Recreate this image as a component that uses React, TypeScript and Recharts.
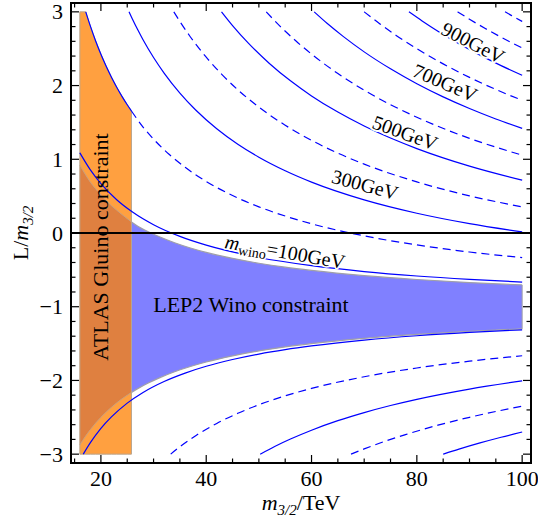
import React from "react";
import {
  ComposedChart,
  Line,
  Area,
  XAxis,
  YAxis,
  ReferenceLine,
  ReferenceDot,
} from "recharts";

// ---------- axis setup ----------
const X_DOMAIN: [number, number] = [14.32, 101.68];
const Y_DOMAIN: [number, number] = [-3.12, 3.12];
const xTicks = [15, 20, 25, 30, 35, 40, 45, 50, 55, 60, 65, 70, 75, 80, 85, 90, 95, 100];
const xMajor = [20, 40, 60, 80, 100];
const yTicks = [
  -3, -2.8, -2.6, -2.4, -2.2, -2, -1.8, -1.6, -1.4, -1.2, -1, -0.8, -0.6, -0.4, -0.2, 0,
  0.2, 0.4, 0.6, 0.8, 1, 1.2, 1.4, 1.6, 1.8, 2, 2.2, 2.4, 2.6, 2.8, 3,
];

// ---------- contour lines (x = m3/2 [TeV], y = L/m3/2) ----------
const upper100 = [[16, 1.088], [18, 0.856], [20, 0.67], [23, 0.452], [26, 0.285], [30, 0.113], [35, -0.046], [40, -0.165], [50, -0.332], [60, -0.443], [70, -0.523], [80, -0.583], [90, -0.629], [100, -0.666]];
const upper200 = [[25.8, 1.655], [28, 1.4375], [30, 1.273], [33, 1.065], [36, 0.891], [40, 0.699], [45, 0.508], [50, 0.355], [55, 0.23], [60, 0.125], [70, -0.039], [80, -0.162], [90, -0.258], [100, -0.334]];
const upper300 = [[25.35, 3], [26, 2.9], [27, 2.756], [28, 2.621], [30, 2.38], [32, 2.169], [35, 1.897], [38, 1.668], [42, 1.414], [46, 1.204], [50, 1.028], [55, 0.844], [60, 0.69], [70, 0.449], [80, 0.268], [90, 0.127], [100, 0.014]];
const upper400 = [[33.85, 3], [35, 2.869], [37, 2.659], [40, 2.385], [43, 2.149], [46, 1.943], [50, 1.708], [55, 1.462], [60, 1.257], [65, 1.083], [70, 0.934], [80, 0.693], [90, 0.504], [100, 0.354]];
const upper500 = [[42.9, 3], [45, 2.813], [48, 2.575], [52, 2.3], [56, 2.064], [60, 1.86], [65, 1.64], [70, 1.451], [75, 1.288], [80, 1.145], [90, 0.907], [100, 0.716]];
const upper600 = [[51.4, 3], [54, 2.807], [57, 2.607], [60, 2.427], [65, 2.163], [70, 1.937], [75, 1.741], [80, 1.57], [90, 1.284], [100, 1.056]];
const upper700 = [[60.5, 3], [63, 2.841], [66, 2.667], [70, 2.457], [75, 2.227], [80, 2.025], [85, 1.847], [90, 1.689], [95, 1.547], [100, 1.42]];
const upper800 = [[70, 3], [73, 2.836], [76, 2.684], [80, 2.5], [85, 2.294], [90, 2.111], [95, 1.947], [100, 1.8]];
const upper900 = [[78.5, 3], [81, 2.877], [84, 2.738], [88, 2.568], [92, 2.413], [96, 2.271], [100, 2.14]];
const upper1000 = [[87.75, 3], [90, 2.9], [93, 2.774], [96, 2.656], [100, 2.51]];
const upper1100 = [[96.75, 3], [98, 2.949], [100, 2.87]];
const lower100 = [[16.65, -3], [18, -2.844], [20, -2.65], [22, -2.495], [25, -2.308], [28, -2.163], [32, -2.014], [36, -1.9], [40, -1.808], [45, -1.716], [50, -1.642], [55, -1.582], [60, -1.532], [70, -1.453], [80, -1.394], [90, -1.349], [100, -1.313]];
const lower200 = [[33.25, -3], [35, -2.9], [38, -2.75], [42, -2.583], [46, -2.446], [50, -2.33], [55, -2.209], [60, -2.108], [70, -1.95], [80, -1.831], [90, -1.739], [100, -1.665]];
const lower300 = [[50.25, -3], [53, -2.896], [56, -2.795], [60, -2.675], [65, -2.546], [70, -2.436], [75, -2.34], [80, -2.256], [90, -2.117], [100, -2.005]];
const lower400 = [[67.5, -3], [70, -2.929], [74, -2.824], [78, -2.731], [84, -2.607], [90, -2.5], [95, -2.421], [100, -2.35]];
const lower500 = [[85, -3], [88, -2.932], [92, -2.848], [96, -2.771], [100, -2.7]];

// ---------- constraint regions ----------
const gluinoTop = [[16, 3], [17.12, 3], [18, 2.806], [19, 2.605], [20, 2.425], [21, 2.262], [22, 2.114], [23, 1.978], [24, 1.854], [25, 1.74], [25.8, 1.655]];
const gluinoEdge = [[17.12, 3], [18, 2.806], [19, 2.605], [20, 2.425], [21, 2.262], [22, 2.114], [23, 1.978], [24, 1.854], [25, 1.74], [25.8, 1.655]];
const gluinoLeftSide = [[16, -3], [16, 3]];
const gluinoRightSide = [[25.8, -3], [25.8, 1.655]];
const gluinoBottom = -3;
// [x, low, high]
const winoBand = [[25.8, -2.163, 0.15], [27, -2.111, 0.093], [29, -2.035, 0.017], [31, -1.968, -0.048], [34, -1.882, -0.132], [37, -1.811, -0.203], [40, -1.75, -0.263], [45, -1.667, -0.344], [50, -1.6, -0.41], [55, -1.545, -0.464], [60, -1.5, -0.508], [70, -1.429, -0.579], [80, -1.375, -0.631], [90, -1.333, -0.672], [100, -1.3, -0.705]];
const winoRightSide = [[100, -1.3], [100, -0.705]];
const overlapBand = [[16, -2.875, 0.92], [17, -2.765, 0.8], [18, -2.667, 0.69], [19, -2.579, 0.6], [20, -2.5, 0.515], [21, -2.429, 0.44], [22, -2.364, 0.37], [23, -2.304, 0.31], [24, -2.25, 0.25], [25, -2.2, 0.195], [25.8, -2.163, 0.15]];

// ---------- labels ----------
const contourLabels = [
  { text: "900GeV", x: 90.67, y: 2.577, angle: 27 },
  { text: "700GeV", x: 85.35, y: 2.035, angle: 23 },
  { text: "500GeV", x: 77.75, y: 1.356, angle: 20 },
  { text: "300GeV", x: 70.15, y: 0.651, angle: 15 },
];
const winoLabel = { x: 54.96, y: -0.258, angle: 10 };
const lepLabel = { text: "LEP2 Wino constraint", x: 48.5, y: -0.977 };
const atlasLabel = { text: "ATLAS Gluino constraint", x: 20.02, y: -0.19 };

// ---------- styling / layout ----------
const W = 538;
const H = 522;
// plot area: left 71, right 531, top 3, bottom 463 (axes take 1px each)
const M = { top: 2, right: 6, bottom: 58, left: 70 };
const PLOT_LEFT = 71;
const PLOT_W = 460;
const PLOT_TOP = 3;
const PLOT_H = 460;
const FONT = '"Liberation Serif", "Times New Roman", Times, serif';
const BLUE = "#0000ff";
const ORANGE = "#ffa040";
const DARK = "#df8040";
const PERI = "#8080ff";
const EDGE_O = "#b8a48e";
const EDGE_B = "#a0a0a8";

const pts = (a: number[][]) => a.map(([x, y]) => ({ x, y }));
const rng = (a: number[][]) => a.map(([x, lo, hi]) => ({ x, r: [lo, hi] }));

const contours = [
  { id: "u100", data: upper100, dashed: false },
  { id: "u200", data: upper200, dashed: true },
  { id: "u300", data: upper300, dashed: false },
  { id: "u400", data: upper400, dashed: true },
  { id: "u500", data: upper500, dashed: false },
  { id: "u600", data: upper600, dashed: true },
  { id: "u700", data: upper700, dashed: false },
  { id: "u800", data: upper800, dashed: true },
  { id: "u900", data: upper900, dashed: false },
  { id: "u1000", data: upper1000, dashed: true },
  { id: "u1100", data: upper1100, dashed: true },
  { id: "l100", data: lower100, dashed: false },
  { id: "l200", data: lower200, dashed: true },
  { id: "l300", data: lower300, dashed: false },
  { id: "l400", data: lower400, dashed: true },
  { id: "l500", data: lower500, dashed: false },
];

const edges = [
  { id: "gl", data: gluinoLeftSide, color: EDGE_O },
  { id: "gr", data: gluinoRightSide, color: EDGE_O },
  { id: "wr", data: winoRightSide, color: EDGE_B },
];

const isMajorY = (v: number) => Math.abs(v - Math.round(v)) < 1e-6;
const fmt = (v: number) => (v < 0 ? `\u2212${Math.abs(v)}` : `${v}`);

const BottomTick = (p: any) => {
  const v = p.payload.value;
  const major = xMajor.includes(v);
  return (
    <g>
      <line x1={p.x} x2={p.x} y1={p.y} y2={p.y - (major ? 8 : 4.5)} stroke="#000" strokeWidth={1.2} />
      {major && (
        <text x={p.x} y={p.y + 22.5} textAnchor="middle" fontSize={22} fontFamily={FONT} fill="#000">
          {v}
        </text>
      )}
    </g>
  );
};
const TopTick = (p: any) => {
  const major = xMajor.includes(p.payload.value);
  return <line x1={p.x} x2={p.x} y1={p.y} y2={p.y + (major ? 8 : 4.5)} stroke="#000" strokeWidth={1.2} />;
};
const LeftTick = (p: any) => {
  const v = p.payload.value;
  const major = isMajorY(v);
  return (
    <g>
      <line x1={p.x} x2={p.x + (major ? 8 : 4.5)} y1={p.y} y2={p.y} stroke="#000" strokeWidth={1.2} />
      {major && (
        <text x={p.x - 8} y={p.y + 7.5} textAnchor="end" fontSize={22} fontFamily={FONT} fill="#000">
          {fmt(Math.round(v))}
        </text>
      )}
    </g>
  );
};
const RightTick = (p: any) => {
  const major = isMajorY(p.payload.value);
  return <line x1={p.x} x2={p.x - (major ? 8 : 4.5)} y1={p.y} y2={p.y} stroke="#000" strokeWidth={1.2} />;
};

const XTitle = () => (
  <text x={PLOT_LEFT + PLOT_W / 2} y={509.5} textAnchor="middle" fontSize={22} fontFamily={FONT} fill="#000">
    <tspan fontStyle="italic">m</tspan>
    <tspan fontSize={15} dy={5} fontStyle="italic">3/2</tspan>
    <tspan dy={-5}>/TeV</tspan>
  </text>
);
const YTitle = () => (
  <text
    transform={`translate(28, ${PLOT_TOP + PLOT_H / 2}) rotate(-90)`}
    textAnchor="middle"
    fontSize={22}
    fontFamily={FONT}
    fill="#000"
  >
    <tspan>L/</tspan>
    <tspan fontStyle="italic">m</tspan>
    <tspan fontSize={15} dy={5} fontStyle="italic">3/2</tspan>
  </text>
);

const halo = { stroke: "#fff", strokeWidth: 4, paintOrder: "stroke" as any, strokeLinejoin: "round" as any };

const contourLabelShape = (lab: { text: string; angle: number }) => (p: any) => (
  <text
    x={p.cx}
    y={p.cy}
    dy="0.33em"
    transform={`rotate(${lab.angle} ${p.cx} ${p.cy})`}
    textAnchor="middle"
    fontSize={20}
    fontFamily={FONT}
    fill="#000"
    {...halo}
  >
    {lab.text}
  </text>
);

const winoShape = (p: any) => (
  <text
    x={p.cx}
    y={p.cy}
    dy="0.33em"
    transform={`rotate(${winoLabel.angle} ${p.cx} ${p.cy})`}
    textAnchor="middle"
    fontSize={20}
    fontFamily={FONT}
    fill="#000"
    {...halo}
    strokeWidth={3}
  >
    <tspan fontStyle="italic">m</tspan>
    <tspan fontSize={14} dy={4}>wino</tspan>
    <tspan dy={-4}>=100GeV</tspan>
  </text>
);

const lepShape = (p: any) => (
  <text x={p.cx} y={p.cy} dy="0.33em" textAnchor="middle" fontSize={22} fontFamily={FONT} fill="#000">
    {lepLabel.text}
  </text>
);

const atlasShape = (p: any) => (
  <text
    x={p.cx}
    y={p.cy}
    dy="0.33em"
    transform={`rotate(-90 ${p.cx} ${p.cy})`}
    textAnchor="middle"
    fontSize={22}
    fontFamily={FONT}
    fill="#000"
  >
    {atlasLabel.text}
  </text>
);

const axisLineStyle = { stroke: "#000", strokeWidth: 2, strokeLinecap: "square" };

export default function App() {
  const gluinoData = gluinoTop.map(([x, y]) => ({ x, r: [gluinoBottom, y] }));
  return (
    <div style={{ position: "absolute", left: 0, top: 0, width: W, height: H, background: "#fff" }}>
      <ComposedChart width={W} height={H} margin={M}>
        <Area
          data={gluinoData}
          dataKey="r"
          type="linear"
          fill={ORANGE}
          fillOpacity={1}
          stroke={EDGE_O}
          strokeWidth={1}
          isAnimationActive={false}
        />
        <Area
          data={rng(overlapBand)}
          dataKey="r"
          type="monotone"
          fill={DARK}
          fillOpacity={1}
          stroke="#c8a080"
          strokeWidth={1}
          isAnimationActive={false}
        />
        <Area
          data={rng(winoBand)}
          dataKey="r"
          type="monotone"
          fill={PERI}
          fillOpacity={1}
          stroke={EDGE_B}
          strokeWidth={1.2}
          isAnimationActive={false}
        />
        {edges.map((e) => (
          <Line
            key={e.id}
            data={pts(e.data)}
            dataKey="y"
            type="linear"
            stroke={e.color}
            strokeWidth={1}
            dot={false}
            activeDot={false}
            isAnimationActive={false}
          />
        ))}
        {contours.map((c) => (
          <Line
            key={c.id}
            data={pts(c.data)}
            dataKey="y"
            type="monotone"
            stroke={BLUE}
            strokeWidth={1.2}
            strokeDasharray={c.dashed ? "8 5" : undefined}
            dot={false}
            activeDot={false}
            isAnimationActive={false}
          />
        ))}
        <Line
          data={pts(gluinoEdge)}
          dataKey="y"
          type="monotone"
          stroke={BLUE}
          strokeWidth={1.2}
          dot={false}
          activeDot={false}
          isAnimationActive={false}
        />
        <ReferenceLine y={0} stroke="#000" strokeWidth={2} />
        {contourLabels.map((l) => (
          <ReferenceDot key={l.text} x={l.x} y={l.y} r={1} shape={contourLabelShape(l)} />
        ))}
        <ReferenceDot x={winoLabel.x} y={winoLabel.y} r={1} shape={winoShape} />
        <ReferenceDot x={lepLabel.x} y={lepLabel.y} r={1} shape={lepShape} />
        <ReferenceDot x={atlasLabel.x} y={atlasLabel.y} r={1} shape={atlasShape} />

        <XAxis
          dataKey="x"
          type="number"
          domain={X_DOMAIN}
          allowDataOverflow
          ticks={xTicks}
          interval={0}
          height={1}
          tickSize={0}
          tickMargin={0}
          tickLine={false}
          axisLine={axisLineStyle}
          tick={BottomTick}
          label={XTitle}
        />
        <XAxis
          xAxisId="top"
          orientation="top"
          dataKey="x"
          type="number"
          domain={X_DOMAIN}
          allowDataOverflow
          ticks={xTicks}
          interval={0}
          height={1}
          tickSize={0}
          tickMargin={0}
          tickLine={false}
          axisLine={axisLineStyle}
          tick={TopTick}
        />
        <YAxis
          type="number"
          domain={Y_DOMAIN}
          allowDataOverflow
          ticks={yTicks}
          interval={0}
          width={1}
          tickSize={0}
          tickMargin={0}
          tickLine={false}
          axisLine={axisLineStyle}
          tick={LeftTick}
          label={YTitle}
        />
        <YAxis
          yAxisId="right"
          orientation="right"
          type="number"
          domain={Y_DOMAIN}
          allowDataOverflow
          ticks={yTicks}
          interval={0}
          width={1}
          tickSize={0}
          tickMargin={0}
          tickLine={false}
          axisLine={axisLineStyle}
          tick={RightTick}
        />
      </ComposedChart>
    </div>
  );
}
